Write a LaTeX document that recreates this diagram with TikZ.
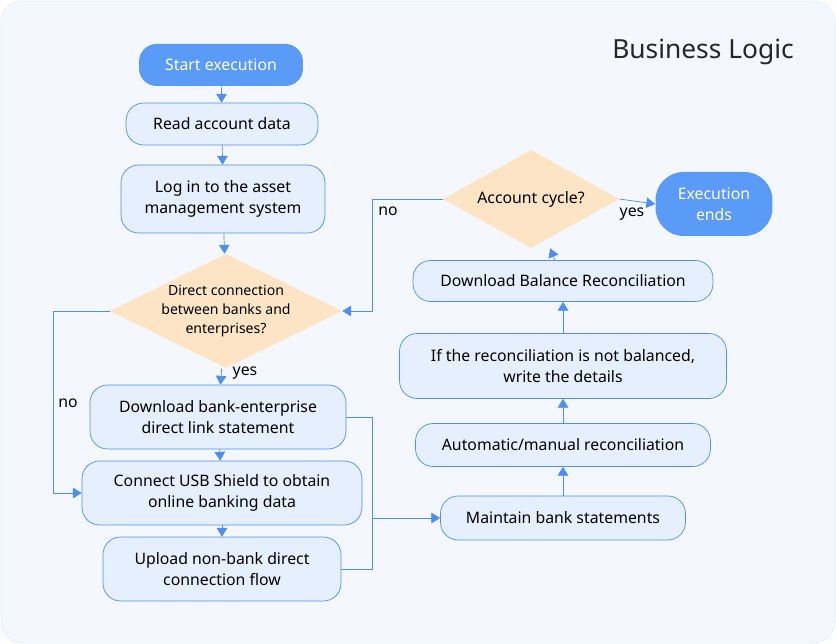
\documentclass[tikz,border=0pt]{standalone}
\usepackage{fontspec}
\setmainfont{Noto Sans}
\usetikzlibrary{positioning, arrows.meta, shapes.geometric}
\definecolor{bluefill}{HTML}{5B9BF8}
\definecolor{boxfill}{HTML}{E5EFFD}
\definecolor{diafill}{HTML}{FDE4C4}
\definecolor{bgfill}{HTML}{F4F8FE}
\definecolor{linec}{HTML}{4F8EF0}

\begin{document}
\begin{tikzpicture}[x=0.02cm, y=-0.02cm,
    font=\fontsize{9}{12}\selectfont,
    pillnode/.style={rectangle, rounded corners=10pt, fill=bluefill, text=white, inner sep=0pt},
    boxnode/.style={rectangle, rounded corners=10pt, draw=linec, fill=boxfill, align=center, inner sep=0pt},
    dianode/.style={rectangle, align=center, inner sep=0pt,
        path picture={\fill[diafill] (path picture bounding box.west) -- (path picture bounding box.north)
            -- (path picture bounding box.east) -- (path picture bounding box.south) -- cycle;}},
    arr/.style={draw=linec, -{Triangle[length=5pt, width=6pt]}},
    ln/.style={draw=linec},
]
\useasboundingbox (0,0) rectangle (836,644);
\draw[fill=bgfill, draw=boxfill, rounded corners=12pt] (1,1) rectangle (835,643);
\node[font=\fontsize{15}{18}\selectfont, text=black!85] (title) at (703,52) {Business Logic};

\node[pillnode, minimum width=3.28cm, minimum height=0.84cm] (start) at (221,65) {Start execution};
\node[boxnode, minimum width=3.84cm, minimum height=0.84cm] (read) at (222,124) {Read account data};
\node[boxnode, minimum width=4.08cm, minimum height=1.36cm] (login) at (223,199) {Log in to the asset\\management system};
\node[dianode, minimum width=4.64cm, minimum height=2.28cm, font=\fontsize{8}{11}\selectfont] (direct) at (226,311) {Direct connection\\between banks and\\enterprises?};
\node[boxnode, minimum width=5.12cm, minimum height=1.28cm] (bankdl) at (218,417) {Download bank-enterprise\\direct link statement};
\node[boxnode, minimum width=5.6cm, minimum height=1.28cm] (usb) at (222,493) {Connect USB Shield to obtain\\online banking data};
\node[boxnode, minimum width=4.76cm, minimum height=1.28cm] (upload) at (222,569) {Upload non-bank direct\\connection flow};

\node[boxnode, minimum width=4.9cm, minimum height=0.88cm] (maintain) at (563,518) {Maintain bank statements};
\node[boxnode, minimum width=5.9cm, minimum height=0.86cm] (recon) at (563,445) {Automatic/manual reconciliation};
\node[boxnode, minimum width=6.54cm, minimum height=1.3cm] (details) at (563,366) {If the reconciliation is not balanced,\\write the details};
\node[boxnode, minimum width=6cm, minimum height=0.82cm] (balance) at (563,281) {Download Balance Reconciliation};
\node[dianode, minimum width=3.52cm, minimum height=1.96cm] (cycle) at (531,199) {Account cycle?};
\node[pillnode, align=center, rounded corners=16pt, minimum width=2.34cm, minimum height=1.28cm] (ends) at (714,204) {Execution\\ends};

% main column
\draw[arr] (start) -- (read);
\draw[arr] (read) -- (login);
\draw[arr] (login) -- (direct);
\draw[arr] (direct) -- (bankdl);
\node (yes1) at (245,373) {yes};
\draw[arr] (bankdl) -- (usb);
\draw[arr] (usb) -- (upload);
\coordinate (nobend) at (53,311);
\draw[arr] (direct.west) -- (nobend) |- (usb.west);
\node (no1) at (68,403) {no};

% merge to maintain
\coordinate (merge) at (372,518);
\draw[ln] (bankdl.east) -| (merge);
\draw[ln] (upload.east) -| (merge);
\draw[arr] (merge) -- (maintain.west);

% right column
\draw[arr] (maintain) -- (recon);
\draw[arr] (recon) -- (details);
\draw[arr] (details) -- (balance);
\draw[arr] (balance) -- (cycle);
\draw[arr] (cycle.east) -- (ends.west);
\node (yes2) at (632,214) {yes};
\coordinate (loopbend) at (372,199);
\draw[arr] (cycle.west) -- (loopbend) |- (direct.east);
\node (no2) at (388,211) {no};
\end{tikzpicture}
\end{document}
